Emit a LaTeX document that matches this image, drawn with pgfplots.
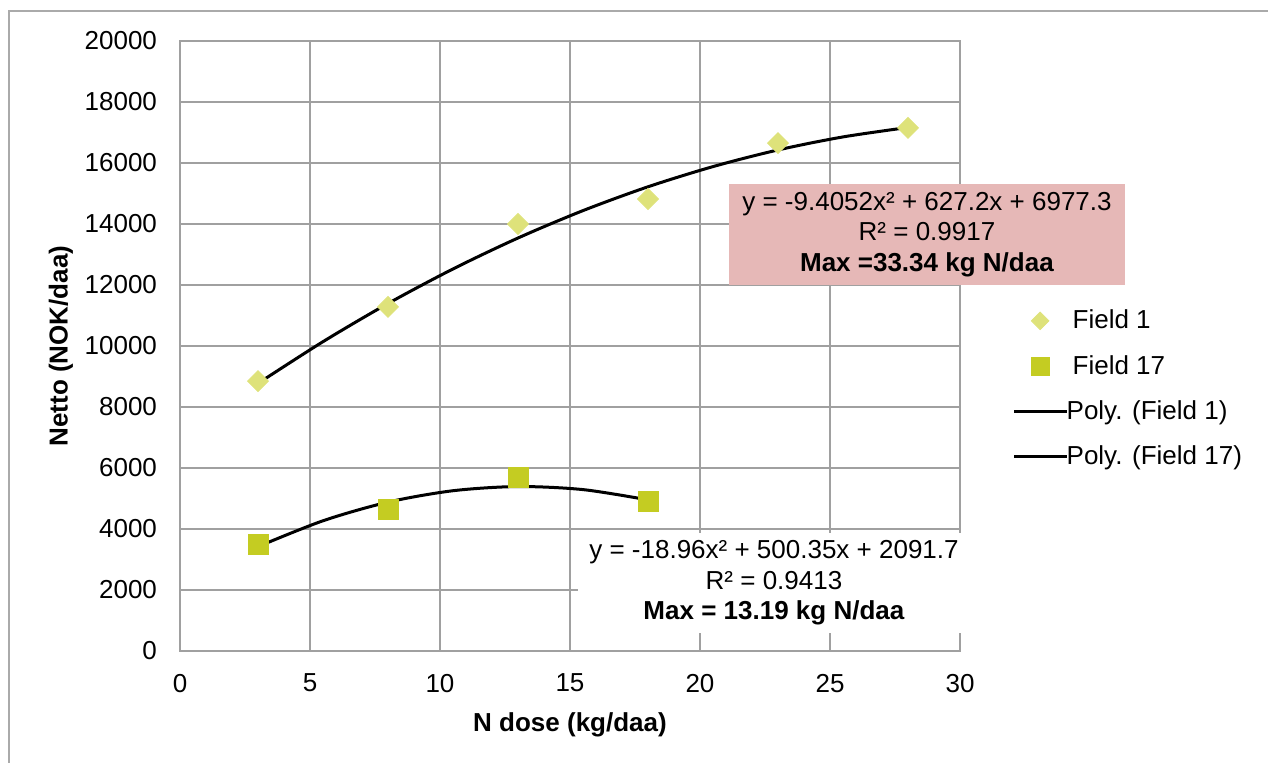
\documentclass[border=0pt]{standalone}
\usepackage{fontspec}
\setmainfont{Liberation Sans}
\usepackage{pgfplots}
\pgfplotsset{compat=1.18}
\definecolor{fieldone}{RGB}{222,226,122}
\definecolor{fieldseventeen}{RGB}{196,204,34}
\definecolor{gridgray}{RGB}{160,160,160}
\definecolor{pinkbox}{RGB}{230,184,183}
\pgfplotsset{
  lineleg/.style={legend image code/.code={\draw[##1] (0pt,0pt) -- (26.5pt,0pt);}},
  markleg/.style={legend image code/.code={\draw[##1, mark size=#1] plot coordinates {(13pt,0pt)};}},
}
\begin{document}
\begin{tikzpicture}[x=1pt,y=1pt]
\useasboundingbox (0pt,0pt) rectangle (634pt,381pt);
\draw[color=gridgray!90, line width=0.8pt] (4.5pt,-10pt) -- (4.5pt,375.5pt) -- (650pt,375.5pt);
\begin{axis}[
  at={(90pt,55.5pt)}, anchor=origin,
  scale only axis, width=390pt, height=305pt,
  xmin=0, xmax=30, ymin=0, ymax=20000,
  xtick={0,5,...,30}, ytick={0,2000,...,20000},
  grid=major, major grid style={gridgray, line width=0.9pt},
  axis line style={gridgray, line width=0.9pt},
  major tick length=0pt,
  scaled y ticks=false,
  /pgf/number format/assume math mode=true,
  /pgf/number format/1000 sep={},
  tick label style={font=\fontsize{13}{15}\selectfont},
  yticklabel style={xshift=-8pt},
  xticklabel style={yshift=-8pt},
  xlabel={\textbf{N dose (kg/daa)}},
  ylabel={\textbf{Netto (NOK/daa)}},
  label style={font=\fontsize{13}{15}\selectfont},
  xlabel style={yshift=-3pt},
  ylabel style={yshift=-1pt},
  legend style={at={(1.067,0.43)}, anchor=west, draw=none, fill=none,
    font=\fontsize{13}{15}\selectfont, row sep=7.7pt,
    cells={anchor=west}, inner xsep=0pt},
  legend cell align=left,
]
\addplot[only marks, mark=square*, mark size=3.7pt, mark options={fill=fieldone, draw=fieldone, rotate=45},
  markleg=3.1pt]
  coordinates {(3,8850) (8,11280) (13,14000) (18,14820) (23,16650) (28,17150)};
\addlegendentry{Field 1}
\addplot[only marks, mark=square*, mark size=5pt, mark options={fill=fieldseventeen, draw=fieldseventeen},
  markleg=4.5pt]
  coordinates {(3,3510) (8,4655) (13,5705) (18,4920)};
\addlegendentry{Field 17}
\addplot[black, line width=1.5pt, smooth, no marks, lineleg]
  coordinates {(3,8774) (5.5,10142) (8,11393) (10.5,12526) (13,13541) (15.5,14439) (18,15220) (20.5,15882) (23,16428) (25.5,16855) (28,17165)};
\addlegendentry{\hspace{-3pt}Poly. (Field 1)}
\addplot[black, line width=1.5pt, smooth, no marks, lineleg]
  coordinates {(3,3422) (5.5,4270) (8,4881) (10.5,5255) (13,5392) (15.5,5292) (18,4955)};
\addlegendentry{\hspace{-3pt}Poly. (Field 17)}
\end{axis}
\node[fill=pinkbox, minimum width=198pt, minimum height=50.5pt, inner sep=0pt, align=center,
  font=\fontsize{13}{15.25}\selectfont] at (463.5pt,263.75pt)
  {y = -9.4052x² + 627.2x + 6977.3\\R² = 0.9917\\\textbf{Max =33.34 kg N/daa}};
\node[fill=white, minimum width=196pt, minimum height=50pt, inner sep=0pt, align=center,
  font=\fontsize{13}{15.25}\selectfont] at (387pt,89.5pt)
  {y = -18.96x² + 500.35x + 2091.7\\R² = 0.9413\\\textbf{Max = 13.19 kg N/daa}};
\end{tikzpicture}
\end{document}
